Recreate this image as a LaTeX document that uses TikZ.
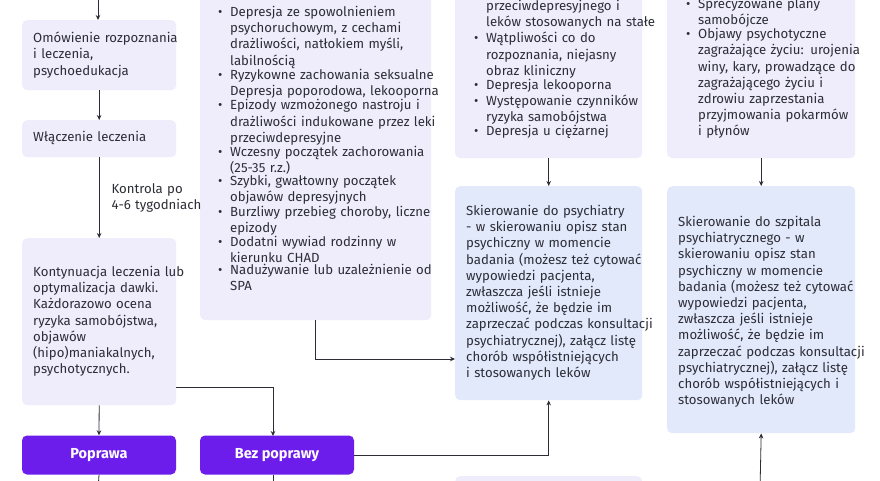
\documentclass[tikz,border=0pt]{standalone}
\usepackage{fontspec}
\setmainfont{Fira Sans}
\usetikzlibrary{arrows.meta,calc}
\definecolor{lav}{RGB}{239,237,252}
\definecolor{blu}{RGB}{225,233,251}
\definecolor{vio}{RGB}{108,28,235}
\definecolor{ink}{RGB}{45,45,55}
\newcommand{\bul}[1]{\par\noindent\makebox[12pt][l]{\textbullet}\parbox[t]{260pt}{#1}}
\tikzset{
  box/.style={draw=none,fill=lav,rounded corners=5pt,anchor=north west,inner sep=0pt},
  bbox/.style={box,fill=blu},
  vbox/.style={box,fill=vio,text=white,font=\fontsize{14.5}{16}\selectfont\bfseries,anchor=center},
  txt/.style={anchor=north west,inner sep=0pt,align=left,text=ink,text width=300pt,
    font=\fontsize{13.2}{16.2}\selectfont},
  arr/.style={draw=ink,line width=0.8pt,-{Stealth[length=5pt,width=4.5pt]}},
  ln/.style={draw=ink,line width=0.8pt}
}
\begin{document}
\begin{tikzpicture}[x=1pt,y=-1pt]
\clip (0,0) rectangle (880,480);
\useasboundingbox (0,0) rectangle (880,480);
\fill[white] (0,0) rectangle (880,480);

% column 1
\node[box,minimum width=154pt,minimum height=70pt] (omow) at (22,20) {};
\node[txt] (omow-t) at (33,32) {Omówienie rozpoznania\\i leczenia,\\psychoedukacja};
\node[box,minimum width=154pt,minimum height=37pt] (wlacz) at (22,120) {};
\node[txt] (wlacz-t) at (33,131) {Włączenie leczenia};
\node[box,minimum width=154pt,minimum height=167pt] (kont) at (22,238) {};
\node[txt] (kont-t) at (33,266) {Kontynuacja leczenia lub\\optymalizacja dawki.\\Każdorazowo ocena\\ryzyka samobójstwa,\\objawów\\(hipo)maniakalnych,\\psychotycznych.};
\node[vbox,minimum width=154pt,minimum height=39pt] (popr) at (99,455) {Poprawa};
\node[vbox,minimum width=154pt,minimum height=39pt] (bez) at (277,455) {Bez poprawy};

% middle list
\node[box,minimum width=231pt,minimum height=340pt] (mid) at (200,-20) {};
\node[txt] (mid-t) at (218,0) {%
\bul{Depresja ze spowolnieniem\\psychoruchowym, z cechami\\drażliwości, natłokiem myśli,\\labilnością}
\bul{Ryzykowne zachowania seksualne\\Depresja poporodowa, lekooporna}
\bul{Epizody wzmożonego nastroju i\\drażliwości indukowane przez leki\\przeciwdepresyjne}
\bul{Wczesny początek zachorowania\\(25-35 r.z.)}
\bul{Szybki, gwałtowny początek\\objawów depresyjnych}
\bul{Burzliwy przebieg choroby, liczne\\epizody}
\bul{Dodatni wywiad rodzinny w\\kierunku CHAD}
\bul{Nadużywanie lub uzależnienie od\\SPA}};

% column 3
\node[box,minimum width=187pt,minimum height=178pt] (wsk) at (455,-20) {};
\node[txt] (wsk-t) at (474,0) {%
\noindent\hspace*{12pt}przeciwdepresyjnego i\\\hspace*{12pt}leków stosowanych na stałe
\bul{Wątpliwości co do\\rozpoznania, niejasny\\obraz kliniczny}
\bul{Depresja lekooporna}
\bul{Występowanie czynników\\ryzyka samobójstwa}
\bul{Depresja u ciężarnej}};
\node[bbox,minimum width=187pt,minimum height=214pt] (psych) at (455,186) {};
\node[txt] (psych-t) at (466,205) {Skierowanie do psychiatry\\- w skierowaniu opisz stan\\psychiczny w momencie\\badania (możesz też cytować\\wypowiedzi pacjenta,\\zwłaszcza jeśli istnieje\\możliwość, że będzie im\\zaprzeczać podczas konsultacji\\psychiatrycznej), załącz listę\\chorób współistniejących\\i stosowanych leków};
\node[box,minimum width=187pt,minimum height=40pt] (dol) at (455,476) {};

% column 4
\node[box,minimum width=188pt,minimum height=178pt] (pilne) at (667,-20) {};
\node[txt] (pilne-t) at (686,-8) {%
\bul{Sprecyzowane plany\\samobójcze}
\bul{Objawy psychotyczne\\zagrażające życiu: urojenia\\winy, kary, prowadzące do\\zagrażającego życiu i\\zdrowiu zaprzestania\\przyjmowania pokarmów\\i płynów}};
\node[bbox,minimum width=188pt,minimum height=247pt] (szpit) at (667,186) {};
\node[txt] (szpit-t) at (678,216) {Skierowanie do szpitala\\psychiatrycznego - w\\skierowaniu opisz stan\\psychiczny w momencie\\badania (możesz też cytować\\wypowiedzi pacjenta,\\zwłaszcza jeśli istnieje\\możliwość, że będzie im\\zaprzeczać podczas konsultacji\\psychiatrycznej), załącz listę\\chorób współistniejących i\\stosowanych leków};

% connectors
\coordinate (g1) at (98,-5);
\coordinate (k1) at (176,387);
\coordinate (b1) at (273,387);
\coordinate (b2) at (273,436);
\coordinate (b3) at (273,476);
\coordinate (p3) at (98,490);
\coordinate (m1) at (455,359);
\coordinate (s1) at (760,490);
\path[arr] (g1) -- (omow.north -| g1);
\path[arr] (omow.south) -- (wlacz.north);
\path[arr] (wlacz.south) -- node[txt,anchor=west,xshift=12pt,text width=120pt,
  font=\fontsize{13.2}{15.5}\selectfont] (kontrola) {Kontrola po\\4-6 tygodniach} (kont.north);
\path[arr] (kont.south) -- (popr.north);
\path[ln] (k1) -- (b1);
\path[arr] (b1) -- (b2);
\path[ln] (popr.south) -- (p3);
\path[ln] (bez.south -| b3) -- ($(b3)+(0,20)$);
\path[arr] (bez.east) -| (psych.south);
\path[arr] (mid.south) |- (m1);
\path[arr] (wsk.south) -- (psych.north);
\path[arr] (pilne.south) -- (szpit.north);
\path[arr] (s1) -- (szpit.south);
\end{tikzpicture}
\end{document}
